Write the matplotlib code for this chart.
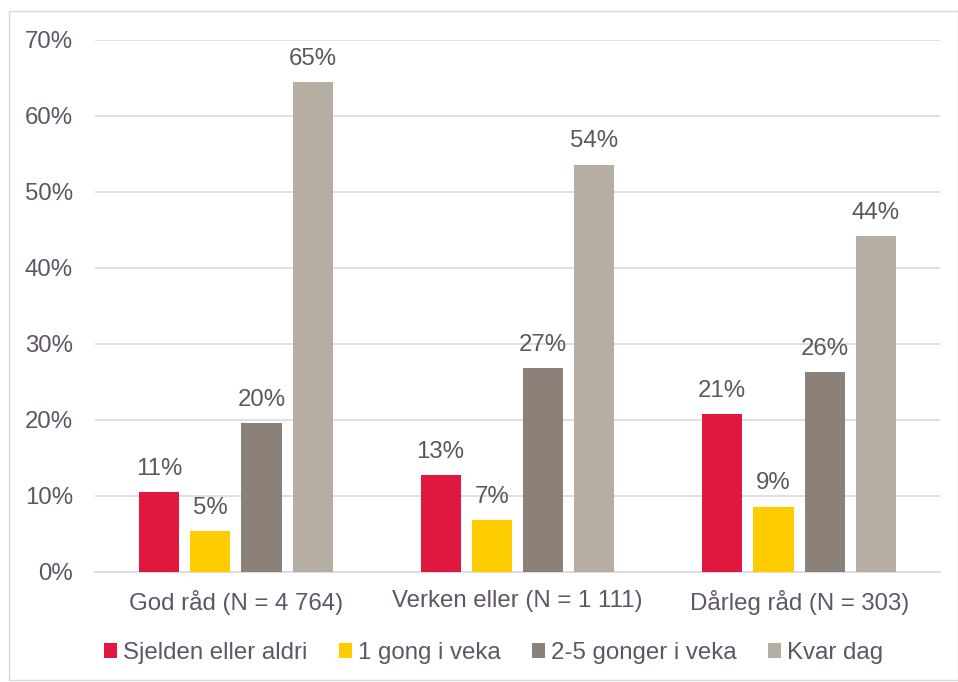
import numpy as np
import matplotlib.pyplot as plt
from matplotlib.patches import Rectangle

plt.rcParams['font.family'] = ['Liberation Sans', 'DejaVu Sans']

groups = ['God råd (N = 4 764)', 'Verken eller (N = 1 111)', 'Dårleg råd (N = 303)']
series = ['Sjelden eller aldri', '1 gong i veka', '2-5 gonger i veka', 'Kvar dag']
values = [
    [10.5, 12.8, 20.8],
    [5.4, 6.8, 8.6],
    [19.6, 26.8, 26.3],
    [64.5, 53.6, 44.2],
]
labels = [
    ['11%', '13%', '21%'],
    ['5%', '7%', '9%'],
    ['20%', '27%', '26%'],
    ['65%', '54%', '44%'],
]
colors = ['#e0173f', '#ffcc00', '#8b8178', '#b6ada3']
yticks = [0, 10, 20, 30, 40, 50, 60, 70]

txt = '#5f5565'
grid = '#dcd8dc'
fs = 17.3

fig = plt.figure(figsize=(9.58, 6.82), dpi=100)
ax = fig.add_axes([95/958, 1 - 572/682, (940-95)/958, (572-40)/682])

x = np.arange(len(groups))
w = 0.1425
step = 0.182
for i, s in enumerate(series):
    pos = x + (i - 1.5) * step
    ax.bar(pos, values[i], width=w, color=colors[i], label=s, zorder=3)
    for px, v, lab in zip(pos, values[i], labels[i]):
        ax.text(px, v + 1.6, lab, ha='center', va='bottom', fontsize=fs, color='#595959')

ax.set_xlim(-0.5, 2.5)
ax.set_ylim(0, 70)
ax.set_yticks(yticks)
ax.set_yticklabels([f'{t}%' for t in yticks])
ax.set_xticks(x)
ax.set_xticklabels(groups)
ax.yaxis.grid(True, color=grid, linewidth=1.2, zorder=0)
ax.set_axisbelow(True)
for sp in ['top', 'right', 'left']:
    ax.spines[sp].set_visible(False)
ax.spines['bottom'].set_color(grid)
ax.spines['bottom'].set_linewidth(1.2)
ax.tick_params(axis='both', length=0, labelsize=fs, labelcolor=txt)
ax.tick_params(axis='y', pad=16)
ax.tick_params(axis='x', pad=13)

leg = fig.legend(loc='center', bbox_to_anchor=(493.5/958, 1 - 653/682), ncol=4, frameon=False,
                 fontsize=fs, handlelength=0.55, handleheight=0.55, handletextpad=0.25,
                 columnspacing=1.3)
for t in leg.get_texts():
    t.set_color(txt)

fig.patches.append(Rectangle((9/958, 2/682), 1 - 9/958, 1 - 11/682 - 2/682,
                             transform=fig.transFigure, fill=False, edgecolor='#d9d9d9', linewidth=1))

fig.savefig('out.png', dpi=100)
